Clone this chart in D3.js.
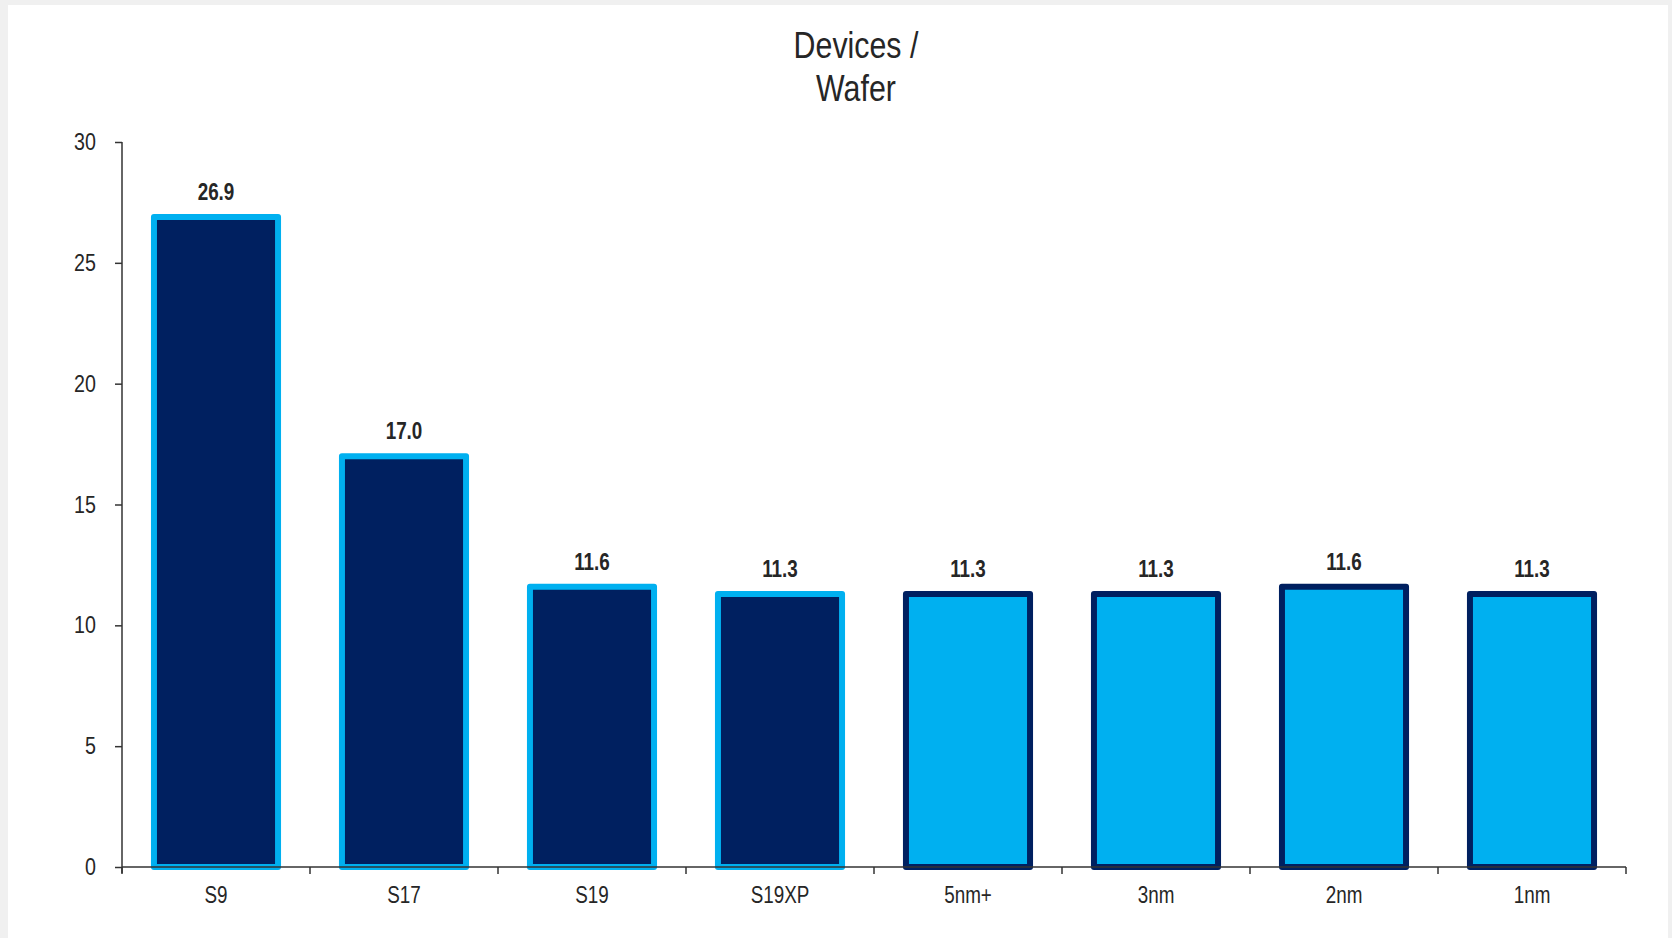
<!DOCTYPE html>
<html>
<head>
<meta charset="utf-8">
<script src="https://cdn.jsdelivr.net/npm/d3@7"></script>
<style>
  html, body { margin: 0; padding: 0; background: #f0f0f0; }
  svg { display: block; }
  text { font-family: "Liberation Sans", Arial, sans-serif; fill: #262626; }
</style>
</head>
<body>
<svg id="chart" width="1672" height="938"></svg>
<script>
const categories = ["S9", "S17", "S19", "S19XP", "5nm+", "3nm", "2nm", "1nm"];
const values = [26.9, 17.0, 11.6, 11.3, 11.3, 11.3, 11.6, 11.3];
const projected = [false, false, false, false, true, true, true, true];
const yTicks = [0, 5, 10, 15, 20, 25, 30];
const titleLines = ["Devices /", "Wafer"];

const navy = "#002060", cyan = "#00B0F0";
const NARROW = 0.82; // emulate a narrow sans
const svg = d3.select("#chart");

svg.append("rect").attr("x", 8).attr("y", 5).attr("width", 1660).attr("height", 933).attr("fill", "#ffffff");

const x = d3.scaleBand().domain(categories).range([122, 1626]).paddingInner(0.34).paddingOuter(0.17);
const y = d3.scaleLinear().domain([0, 30]).range([867, 142]);

function narrowText(sel, px, py) {
  sel.attr("x", 0).attr("y", 0)
    .attr("transform", (d, i) => `translate(${px(d, i)},${py(d, i)}) scale(${NARROW},1)`);
}

// title
svg.append("g").selectAll("text").data(titleLines).join("text")
  .attr("text-anchor", "middle").attr("font-size", 37)
  .call(narrowText, () => 856, (d, i) => 58 + i * 43)
  .text(d => d);

// bars
svg.append("g").selectAll("rect").data(categories).join("rect")
  .attr("x", d => x(d))
  .attr("y", (d, i) => y(values[i]))
  .attr("width", x.bandwidth())
  .attr("height", (d, i) => y(0) - y(values[i]))
  .attr("fill", (d, i) => projected[i] ? cyan : navy)
  .attr("stroke", (d, i) => projected[i] ? navy : cyan)
  .attr("stroke-width", 6)
  .attr("stroke-linejoin", "round");

// value labels
svg.append("g").selectAll("text").data(categories).join("text")
  .attr("text-anchor", "middle")
  .attr("font-size", 23).attr("font-weight", "bold")
  .call(narrowText, d => x(d) + x.bandwidth() / 2, (d, i) => y(values[i]) - 17)
  .text((d, i) => values[i].toFixed(1));

// y axis
const yAxis = svg.append("g").attr("transform", "translate(122,0)")
  .call(d3.axisLeft(y).tickValues(yTicks).tickSize(7).tickSizeOuter(0).tickPadding(12));
yAxis.select(".domain").attr("stroke", "#333").attr("stroke-width", 1.5).attr("d", "M0,142V873");
yAxis.selectAll(".tick line").attr("stroke", "#333").attr("stroke-width", 1.5);
yAxis.selectAll(".tick text")
  .attr("font-size", 24).attr("fill", "#262626")
  .style("font-family", "\"Liberation Sans\", Arial, sans-serif")
  .attr("dy", null)
  .attr("x", 0).attr("y", 0)
  .attr("transform", "translate(-26,7.5) scale(" + NARROW + ",1)");

// x axis
const xBoundaries = d3.range(categories.length + 1).map(i => 122 + i * x.step());
const xAxisG = svg.append("g").attr("transform", "translate(0,867)");
xAxisG.append("line").attr("x1", 122).attr("x2", 1626).attr("stroke", "#333").attr("stroke-width", 1.5);
xAxisG.selectAll("line.tk").data(xBoundaries).join("line").attr("class", "tk")
  .attr("x1", d => d).attr("x2", d => d).attr("y1", 0).attr("y2", 7)
  .attr("stroke", "#333").attr("stroke-width", 1.5);
xAxisG.selectAll("text").data(categories).join("text")
  .attr("text-anchor", "middle")
  .attr("font-size", 23)
  .call(narrowText, d => x(d) + x.bandwidth() / 2, () => 36)
  .text(d => d);
</script>
</body>
</html>
